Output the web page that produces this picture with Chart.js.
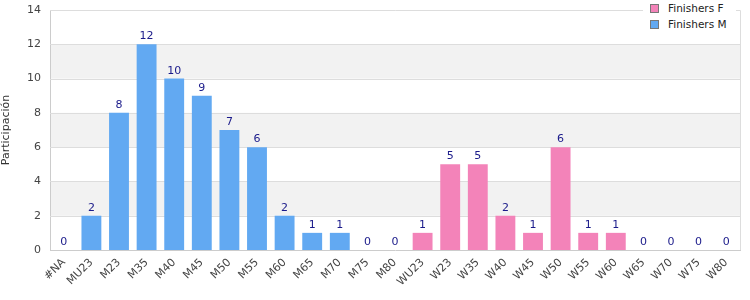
<!DOCTYPE html>
<html>
<head>
<meta charset="utf-8">
<script src="https://cdn.jsdelivr.net/npm/chart.js@4/dist/chart.umd.min.js"></script>
<style>
  body { margin: 0; background: #fff; }
  #wrap { position: relative; width: 750px; height: 300px; }
  #legend { position: absolute; left: 643px; top: 0; width: 93px; height: 33px; background: #fff;
            font: 10.5px "DejaVu Sans", sans-serif; color: #222; }
  #legend .sw { position: absolute; left: 7px; width: 7px; height: 7px; border: 1px solid #777; }
  #legend .tx { position: absolute; left: 25px; white-space: nowrap; line-height: 12px; }
</style>
</head>
<body>
<div id="wrap">
  <canvas id="chart" width="750" height="300"></canvas>
  <div id="legend">
    <div class="sw" style="top:4px; background:#f383b9"></div><div class="tx" style="top:2px">Finishers F</div>
    <div class="sw" style="top:20px; background:#62a9f2"></div><div class="tx" style="top:18px">Finishers M</div>
  </div>
</div>
<script>
const categories = ['#NA', 'MU23', 'M23', 'M35', 'M40', 'M45', 'M50', 'M55', 'M60', 'M65', 'M70', 'M75', 'M80',
    'WU23', 'W23', 'W35', 'W40', 'W45', 'W50', 'W55', 'W60', 'W65', 'W70', 'W75', 'W80'];
const finishersM = [0, 2, 8, 12, 10, 9, 7, 6, 2, 1, 1, 0, 0,
    null, null, null, null, null, null, null, null, null, null, null, null];
const finishersF = [null, null, null, null, null, null, null, null, null, null, null, null, null,
    1, 5, 5, 2, 1, 6, 1, 1, 0, 0, 0, 0];
const yTicks = [0, 2, 4, 6, 8, 10, 12, 14];

const font = { family: 'DejaVu Sans', size: 11 };

// grey bands between every other pair of ticks, plus the right border
const bands = {
    id: 'bands',
    beforeDatasetsDraw(chart) {
        const { ctx, chartArea: a, scales: { y } } = chart;
        ctx.save();
        ctx.fillStyle = '#f2f2f2';
        for (let i = 2; i < 14; i += 4) {
            const top = y.getPixelForValue(i + 2), bot = y.getPixelForValue(i);
            ctx.fillRect(a.left + 1, top, a.right - a.left - 1, bot - top);
        }
        ctx.strokeStyle = '#dddddd';
        ctx.lineWidth = 1;
        for (let i = 2; i <= 12; i += 2) {
            const p = Math.round(y.getPixelForValue(i)) + 0.5;
            ctx.beginPath(); ctx.moveTo(a.left, p); ctx.lineTo(a.right, p); ctx.stroke();
        }
        ctx.beginPath();
        ctx.moveTo(a.left, a.top + 0.5); ctx.lineTo(a.right + 0.5, a.top + 0.5);
        ctx.lineTo(a.right + 0.5, a.bottom);
        ctx.stroke();
        ctx.restore();
    }
};

// value labels over every bar
const valueLabels = {
    id: 'valueLabels',
    afterDatasetsDraw(chart) {
        const { ctx } = chart;
        ctx.save();
        ctx.font = '11px "DejaVu Sans"';
        ctx.fillStyle = '#1a1a8a';
        ctx.textAlign = 'center';
        ctx.textBaseline = 'alphabetic';
        chart.data.datasets.forEach((ds, di) => {
            chart.getDatasetMeta(di).data.forEach((bar, i) => {
                const v = ds.data[i];
                if (v === null) return;
                ctx.fillText(String(v), bar.x, bar.y - 5);
            });
        });
        ctx.restore();
    }
};

new Chart(document.getElementById('chart'), {
    type: 'bar',
    data: {
        labels: categories,
        datasets: [
            { label: 'Finishers F', data: finishersF, backgroundColor: '#f383b9', categoryPercentage: 0.72, barPercentage: 1 },
            { label: 'Finishers M', data: finishersM, backgroundColor: '#62a9f2', categoryPercentage: 0.72, barPercentage: 1 }
        ]
    },
    options: {
        responsive: false,
        animation: false,
        layout: { padding: { top: 10, right: 10, left: 0, bottom: 0 } },
        plugins: { legend: { display: false }, tooltip: { enabled: false } },
        scales: {
            x: {
                stacked: true,
                grid: { display: false, drawTicks: false },
                border: { color: '#cccccc' },
                ticks: { font, color: '#444', maxRotation: 45, minRotation: 45, padding: 6, autoSkip: false },
                afterFit(s) { s.height = 50; s.paddingLeft = 0; s.paddingRight = 0; }
            },
            y: {
                stacked: true,
                min: 0, max: 14,
                afterBuildTicks(s) { s.ticks = yTicks.map(v => ({ value: v })); },
                grid: { display: false, drawTicks: false },
                border: { color: '#cccccc' },
                ticks: { font, color: '#444', padding: 9 },
                title: { display: true, text: 'Participación', font, color: '#333', padding: 0 },
                afterFit(s) { s.width = 50; s.paddingTop = 0; s.paddingBottom = 0; }
            }
        }
    },
    plugins: [bands, valueLabels]
});
</script>
</body>
</html>
